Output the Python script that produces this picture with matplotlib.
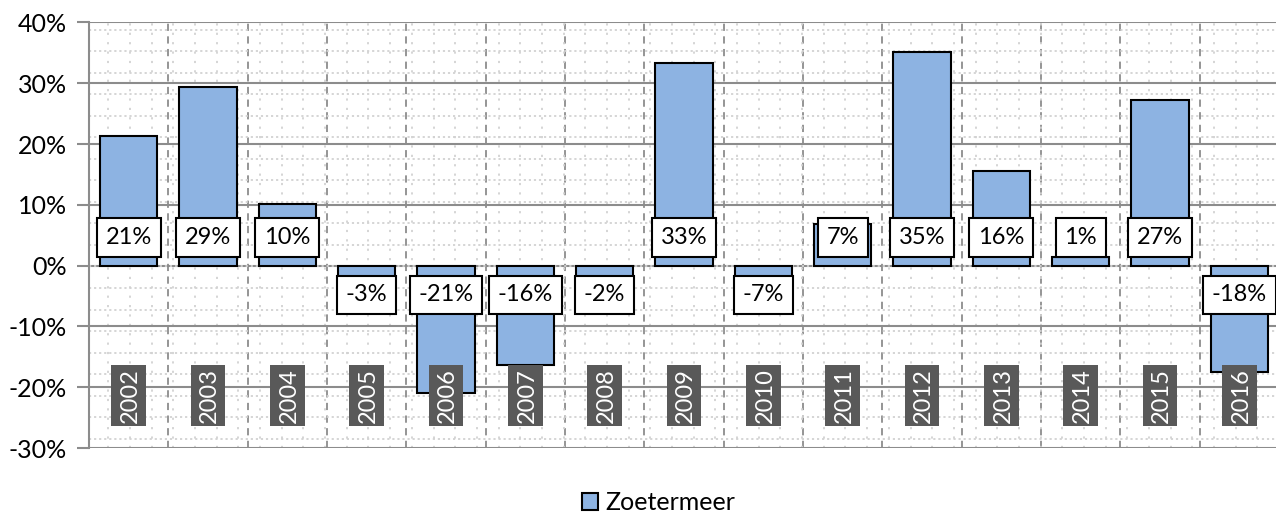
import numpy as np
import matplotlib
matplotlib.use("Agg")
import matplotlib.pyplot as plt
from matplotlib.ticker import FixedLocator, FuncFormatter

plt.rcParams['font.family'] = ['Lato', 'DejaVu Sans']

# data (percent change per year)
years = ['2002', '2003', '2004', '2005', '2006', '2007', '2008', '2009',
         '2010', '2011', '2012', '2013', '2014', '2015', '2016']
values = [21.4, 29.4, 10.1, -2.8, -20.9, -16.3, -1.8, 33.4,
          -6.8, 6.8, 35.1, 15.6, 1.4, 27.2, -17.5]
series_name = 'Zoetermeer'

bar_color = '#8DB3E2'
grid_gray = '#8C8C8C'
label_gray = '#595959'

fig = plt.figure(figsize=(12.76, 5.13), dpi=100)
ax = fig.add_axes([89 / 1276, 65 / 513, 1190 / 1276, 425.5 / 513])

x = np.arange(len(years))
bars = ax.bar(x, values, width=0.724, color=bar_color, edgecolor='black',
              linewidth=1.5, zorder=3, label=series_name)

ax.set_xlim(-0.5, len(years) - 0.5)
ax.set_ylim(-30, 40)

# major horizontal grid
ax.set_yticks(np.arange(-30, 41, 10))
ax.yaxis.set_major_formatter(FuncFormatter(lambda v, p: f'{v:.0f}%'))
ax.grid(axis='y', which='major', color=grid_gray, linewidth=1.5, zorder=1)

# minor dotted grid (both directions)
ax.yaxis.set_minor_locator(FixedLocator(np.arange(38.8, -30, -3.54)))
ax.grid(axis='y', which='minor', color='#D2D2D2', linestyle=(0, (1.2, 1.6)),
        linewidth=1.3, zorder=1)
ax.set_xticks([])
ax.xaxis.set_minor_locator(FixedLocator(np.arange(-0.257, 14.5, 0.2733)))
ax.grid(axis='x', which='minor', color='#D2D2D2', linestyle=(0, (1.2, 4)),
        linewidth=1.3, zorder=1)
ax.tick_params(axis='x', which='both', length=0)

# dashed category boundaries
for b in np.arange(0.5, len(years) - 0.5, 1):
    ax.axvline(b, color=grid_gray, linestyle=(0, (4, 3)), linewidth=1.3, zorder=1)

ax.tick_params(axis='y', which='major', length=9, width=1.5, color=grid_gray,
               labelsize=18, pad=7)
ax.tick_params(axis='y', which='minor', length=0)

for s in ['top', 'right', 'bottom']:
    ax.spines[s].set_visible(False)
ax.spines['left'].set_color(grid_gray)
ax.spines['left'].set_linewidth(1.5)

# value labels at the base of each bar
for xi, v in zip(x, values):
    ypos = 4.6 if v >= 0 else -4.8
    ax.text(xi, ypos, f'{round(v):d}%', ha='center', va='center', fontsize=17,
            zorder=5,
            bbox=dict(boxstyle='square,pad=0.37', facecolor='white',
                      edgecolor='black', linewidth=1.5))

# year labels in dark boxes
ax.bar(x, 10, bottom=-26.4, width=0.44, color=label_gray, zorder=6)
for xi, yr in zip(x, years):
    ax.text(xi + 0.02, -21.4, yr, ha='center', va='center', rotation=90,
            fontsize=17, color='white', zorder=7)

fig.legend(handles=[bars], labels=[series_name], loc='center',
           bbox_to_anchor=(0.516, 0.02), frameon=False, fontsize=18,
           handlelength=0.65, handleheight=0.65, handletextpad=0.3)

fig.savefig('out.png', dpi=100)
